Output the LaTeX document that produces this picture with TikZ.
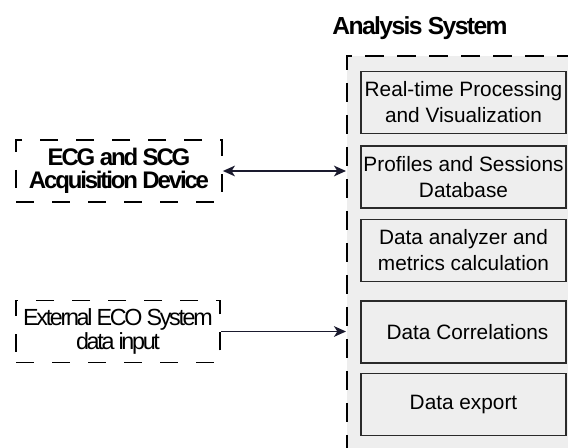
\documentclass[tikz,border=0pt]{standalone}
\usepackage{fontspec}
\setmainfont{Liberation Sans}
\usetikzlibrary{arrows.meta}
\definecolor{panel}{HTML}{EEEEEE}
\definecolor{arrowc}{HTML}{1A1A2E}
\definecolor{boxline}{HTML}{2A2A2A}
\begin{document}
\begin{tikzpicture}[x=0.75pt,y=-0.75pt,
  inbox/.style={draw=boxline, line width=1.2pt, fill=panel, minimum width=153.75pt,
    minimum height=46.5pt, align=center, inner sep=0pt,
    font=\fontsize{15.6}{19.5}\selectfont},
  extbox/.style={draw=black, line width=1.35pt, dash pattern=on 13.5pt off 13.5pt,
    align=center, inner sep=0pt, minimum height=46.5pt},
  sysbox/.style={draw=black, line width=1.4pt, dash pattern=on 14pt off 10pt,
    fill=panel, inner sep=0pt, anchor=north west},
  conn/.style={draw=arrowc, line width=1.2pt},
  tip/.style={-{Stealth[length=9pt,width=8pt,inset=2.5pt]}}
]
\useasboundingbox (0,0) rectangle (568,448);

\node[sysbox, minimum width=190.5pt, minimum height=318.75pt] (sys) at (346,55) {};

\node[anchor=base, inner sep=0pt,
  font=\fontsize{18.5}{20}\selectfont\bfseries\addfontfeature{LetterSpace=-6.5}] (title) at (420,35) {Analysis System};

\node[inbox] (rt)  at (463.5,102.5) {Real-time Processing\\and Visualization};
\node[inbox] (db)  at (463.5,177)   {Profiles and Sessions\\Database};
\node[inbox] (an)  at (463.5,250.5) {Data analyzer and\\metrics calculation};
\node[inbox] (cor) at (463.5,332)   {\hspace*{6pt}Data Correlations};
\node[inbox] (exp) at (463.5,404.5) {Data export};

\node[extbox, minimum width=154.5pt,
  font=\fontsize{18}{17.5}\selectfont\bfseries\addfontfeature{LetterSpace=-9}] (ecg) at (119,171) {ECG and SCG\\Acquisition Device};
\node[extbox, minimum width=153pt,
  font=\fontsize{17.5}{16}\selectfont\addfontfeature{LetterSpace=-10}] (ext) at (118,331.5) {External ECO System\\data input};

\draw[conn, {Stealth[length=9pt,width=8pt,inset=2.5pt]}-{Stealth[length=9pt,width=8pt,inset=2.5pt]}] (ecg.east) -- (ecg.east -| sys.west);
\draw[conn, tip] (ext.east) -- (ext.east -| sys.west);
\end{tikzpicture}
\end{document}
